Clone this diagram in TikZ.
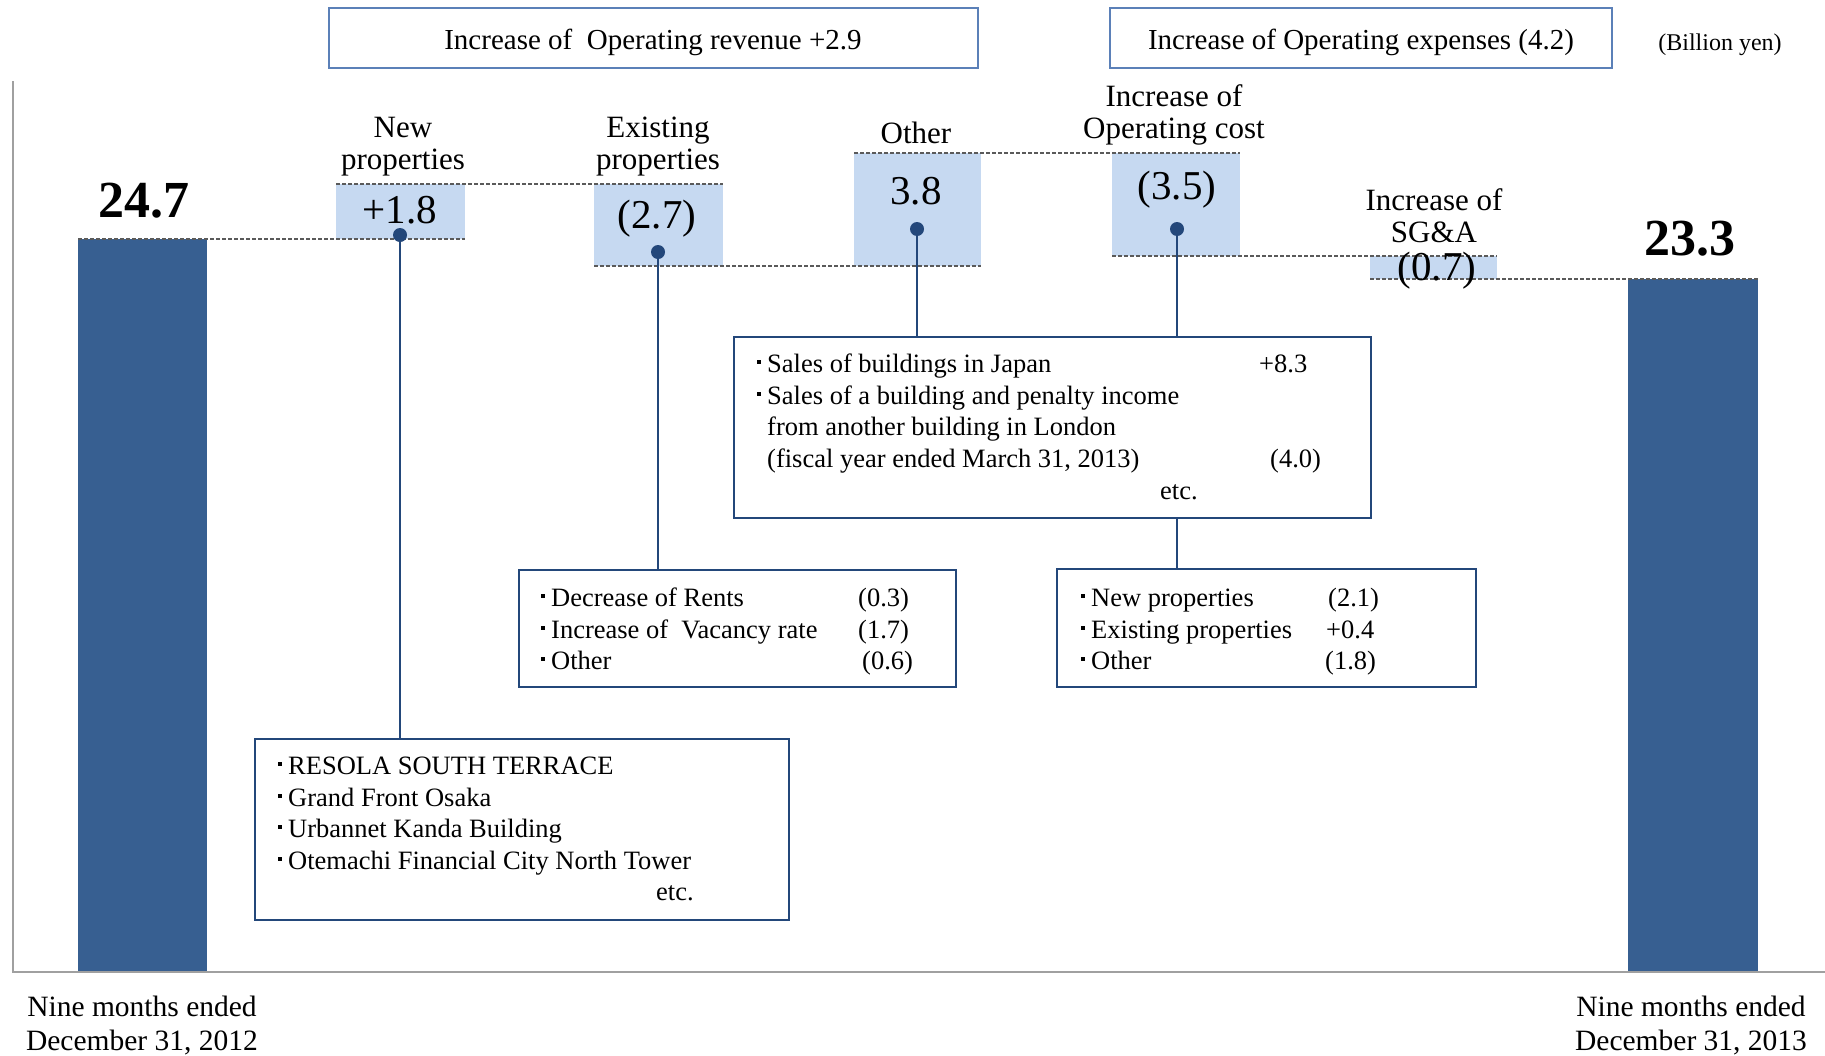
\documentclass[tikz,border=0pt]{standalone}
\usepackage{fontspec}
\setmainfont{Liberation Serif}
\definecolor{barblue}{HTML}{375F91}
\definecolor{lightblue}{HTML}{C6D9F1}
\definecolor{navy}{HTML}{23477A}
\definecolor{hdrblue}{HTML}{5B80B8}
\definecolor{dashgray}{HTML}{5A5A5A}
\definecolor{axisgray}{HTML}{A0A0A0}
\newcommand\bul{\makebox[10pt][l]{\raisebox{8.5pt}{\rule{4pt}{4pt}}}}
\begin{document}
\begin{tikzpicture}[x=1pt,y=-1pt,
  txt/.style={anchor=base west,inner sep=0pt,font=\fontsize{26.5}{32}\selectfont},
  lbl/.style={anchor=base,inner sep=0pt,font=\fontsize{31}{32}\selectfont},
  val/.style={anchor=base,inner sep=0pt,font=\fontsize{41}{44}\selectfont},
  tot/.style={anchor=base,inner sep=0pt,font=\fontsize{52}{56}\selectfont\bfseries},
  btm/.style={anchor=base,inner sep=0pt,font=\fontsize{29.5}{32}\selectfont},
  hdrtxt/.style={anchor=base,inner sep=0pt,font=\fontsize{29}{32}\selectfont},
  rect/.style={anchor=north west,inner sep=0pt,outer sep=0pt},
  bar/.style={rect,fill=barblue,draw=none},
  floatbox/.style={rect,fill=lightblue,draw=none},
  dline/.style={draw=dashgray,line width=1.7pt,dash pattern=on 4pt off 2pt},
  detail/.style={rect,draw=navy,line width=2pt,fill=white},
  hdr/.style={rect,draw=hdrblue,line width=1.5pt},
  conn/.style={draw=navy,line width=2.6pt},
  dotst/.style={circle,fill=navy,inner sep=0pt,minimum size=14pt},
]
\useasboundingbox (0,0) rectangle (1825,1055);

% headers
\node[hdr,minimum width=649pt,minimum height=60pt] (h1) at (329,8) {};
\node[hdrtxt] (h1t) at (653,49) {Increase of\ \ Operating revenue +2.9};
\node[hdr,minimum width=502pt,minimum height=60pt] (h2) at (1110,8) {};
\node[hdrtxt] (h2t) at (1361,49) {Increase of Operating expenses (4.2)};
\node[anchor=base,inner sep=0pt,font=\fontsize{24}{28}\selectfont] (unit) at (1720,50) {(Billion yen)};

% bars
\node[bar,minimum width=129pt,minimum height=733pt] (bar1) at (78,239) {};
\node[bar,minimum width=130pt,minimum height=693pt] (bar2) at (1628,279) {};

% floating boxes
\node[floatbox,minimum width=129pt,minimum height=55pt] (fnew) at (336,184) {};
\node[floatbox,minimum width=129pt,minimum height=82pt] (fex) at (594,184) {};
\node[floatbox,minimum width=127pt,minimum height=113pt] (foth) at (854,153) {};
\node[floatbox,minimum width=128pt,minimum height=103pt] (fcost) at (1112,153) {};
\node[floatbox,minimum width=127pt,minimum height=23pt] (fsga) at (1370,256) {};

% dashed level lines
\draw[dline] (bar1.north west) -- (fnew.south east);
\draw[dline] (fnew.north west) -- (fex.north east);
\draw[dline] (fex.south west) -- (foth.south east);
\draw[dline] (foth.north west) -- (fcost.north east);
\draw[dline] (fcost.south west) -- (fsga.north east);
\draw[dline] (fsga.south west) -- (bar2.north east);

% axis
\draw[axisgray,line width=2pt] (13,81) -- (13,972) -- (1825,972);

% detail boxes
\node[detail,minimum width=534pt,minimum height=181pt] (resola) at (255,739) {};
\node[detail,minimum width=437pt,minimum height=117pt] (rent) at (519,570) {};
\node[detail,minimum width=637pt,minimum height=181pt] (sales) at (734,337) {};
\node[detail,minimum width=419pt,minimum height=118pt] (costb) at (1057,569) {};

% dots
\node[dotst] (dnew) at (400,235) {};
\node[dotst] (dex) at (658,252) {};
\node[dotst] (doth) at (917,229) {};
\node[dotst] (dcost) at (1177,229) {};

% connectors
\draw[conn] (dnew.south) -- (dnew.south |- resola.north);
\draw[conn] (dex.south) -- (dex.south |- rent.north);
\draw[conn] (doth.south) -- (doth.south |- sales.north);
\draw[conn] (dcost.south) -- (dcost.south |- sales.north);
\draw[conn] (dcost.south |- sales.south) -- (dcost.south |- costb.north);

% labels
\node[lbl] (lnew1) at (403,137) {New};
\node[lbl] (lnew2) at (403,169) {properties};
\node[lbl] (lex1) at (658,137) {Existing};
\node[lbl] (lex2) at (658,169) {properties};
\node[lbl] (loth) at (916,143) {Other};
\node[lbl] (lcost1) at (1174,106) {Increase of};
\node[lbl] (lcost2) at (1174,138) {Operating cost};
\node[lbl] (lsga1) at (1434,210) {Increase of};
\node[lbl] (lsga2) at (1434,242) {SG\&A};

% values
\node[val] (vnew) at (400,223) {+1.8};
\node[val] (vex) at (657,228) {(2.7)};
\node[val] (voth) at (916,204) {3.8};
\node[val] (vcost) at (1177,199) {(3.5)};
\node[val] (vsga) at (1437,280) {(0.7)};
\node[tot] (tot1) at (144,217) {24.7};
\node[tot] (tot2) at (1690,255) {23.3};

% bottom labels
\node[btm] (b1a) at (142,1016) {Nine months ended};
\node[btm] (b1b) at (142,1050) {December 31, 2012};
\node[btm] (b2a) at (1691,1016) {Nine months ended};
\node[btm] (b2b) at (1691,1050) {December 31, 2013};

% RESOLA box text
\node[txt] (r1) at (278,774) {\bul RESOLA SOUTH TERRACE};
\node[txt] (r2) at (278,806) {\bul Grand Front Osaka};
\node[txt] (r3) at (278,837) {\bul Urbannet Kanda Building};
\node[txt] (r4) at (278,869) {\bul Otemachi Financial City North Tower};
\node[txt] (r5) at (656,900) {etc.};

% rent box text
\node[txt] (e1) at (541,606) {\bul Decrease of Rents};
\node[txt] (e1v) at (858,606) {(0.3)};
\node[txt] (e2) at (541,638) {\bul Increase of\ \ Vacancy rate};
\node[txt] (e2v) at (858,638) {(1.7)};
\node[txt] (e3) at (541,669) {\bul Other};
\node[txt] (e3v) at (862,669) {(0.6)};

% sales box text
\node[txt] (s1) at (757,372) {\bul Sales of buildings in Japan};
\node[txt] (s1v) at (1259,372) {+8.3};
\node[txt] (s2) at (757,404) {\bul Sales of a building and penalty income};
\node[txt] (s3) at (767,435) {from another building in London};
\node[txt] (s4) at (767,467) {(fiscal year ended March 31, 2013)};
\node[txt] (s4v) at (1270,467) {(4.0)};
\node[txt] (s5) at (1160,499) {etc.};

% cost box text
\node[txt] (c1) at (1081,606) {\bul New properties};
\node[txt] (c1v) at (1328,606) {(2.1)};
\node[txt] (c2) at (1081,638) {\bul Existing properties};
\node[txt] (c2v) at (1326,638) {+0.4};
\node[txt] (c3) at (1081,669) {\bul Other};
\node[txt] (c3v) at (1325,669) {(1.8)};
\end{tikzpicture}
\end{document}
